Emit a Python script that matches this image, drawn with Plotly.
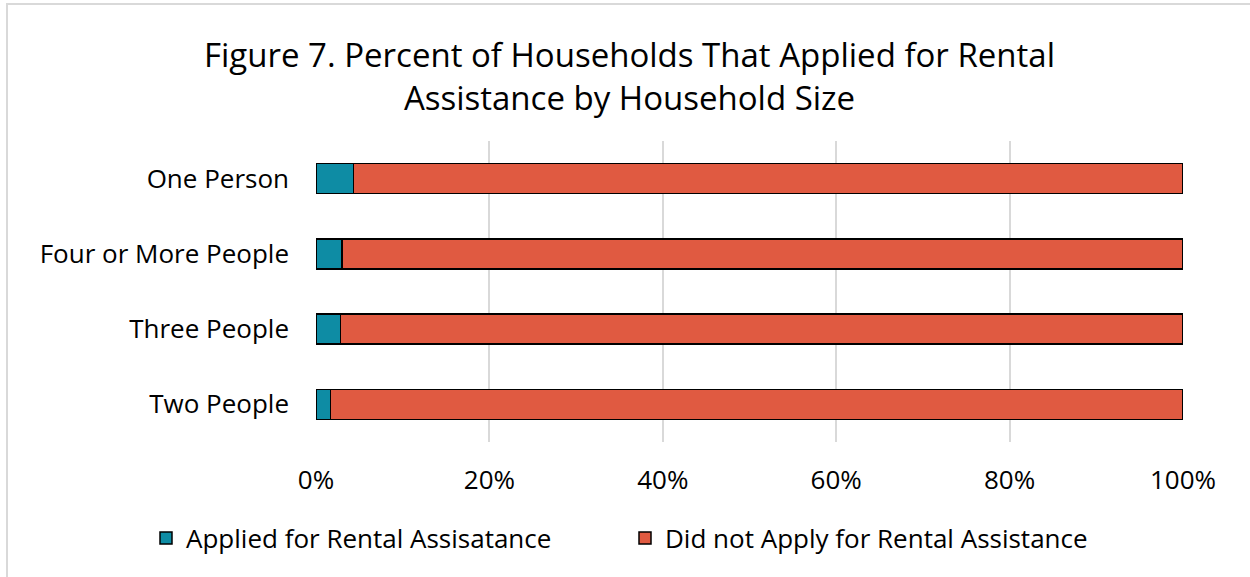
import plotly.graph_objects as go

# Household size categories, listed bottom to top
categories = ["Two People", "Three People", "Four or More People", "One Person"]
applied = [1.7, 2.8, 3.0, 4.3]
did_not_apply = [98.3, 97.2, 97.0, 95.7]
tick_vals = [0, 20, 40, 60, 80, 100]
tick_text = ["0%", "20%", "40%", "60%", "80%", "100%"]

FONT = "'Open Sans', sans-serif"
W, H = 1250, 577
L, R, T, B = 316, 67, 141, 135

fig = go.Figure()
fig.add_trace(go.Bar(
    y=categories, x=applied, orientation="h",
    name="Applied for Rental Assisatance",
    marker=dict(color="#0E8CA4", line=dict(color="#000000", width=1.5)),
    width=0.4,
))
fig.add_trace(go.Bar(
    y=categories, x=did_not_apply, orientation="h",
    name="Did not Apply for Rental Assistance",
    marker=dict(color="#E05A41", line=dict(color="#000000", width=1.5)),
    width=0.4,
))

pw, ph = W - L - R, H - T - B
fig.add_shape(
    type="rect", xref="paper", yref="paper",
    x0=(7 - L) / pw, x1=(W + 20 - L) / pw,
    y0=-(H + 20 - (H - B)) / ph, y1=1 + (T - 4) / ph,
    line=dict(color="#D9D9D9", width=2), fillcolor="rgba(0,0,0,0)", layer="below",
)

fig.update_layout(
    width=W, height=H,
    barmode="stack",
    paper_bgcolor="white", plot_bgcolor="white",
    margin=dict(l=L, r=R, t=T, b=B),
    font=dict(family=FONT, size=26, color="#000000"),
    title=dict(
        text="Figure 7. Percent of Households That Applied for Rental<br>Assistance by Household Size",
        x=629.5 / W, xanchor="center", y=1 - 67 / H, yanchor="middle",
        font=dict(family=FONT, size=33, color="#000000"),
    ),
    xaxis=dict(
        range=[0, 100], tickvals=tick_vals, ticktext=tick_text,
        showgrid=True, gridcolor="#D9D9D9", gridwidth=1.5,
        zeroline=False, showline=False, ticks="",
        ticklabelstandoff=20,
        tickfont=dict(size=26),
    ),
    yaxis=dict(
        showgrid=False, zeroline=False, showline=False, ticks="",
        ticklabelstandoff=26,
        tickfont=dict(size=26),
    ),
    legend=dict(
        orientation="h", x=(146 - L) / pw, xanchor="left",
        y=-(538 - (H - B)) / ph, yanchor="middle",
        font=dict(size=26), traceorder="normal",
        itemwidth=30, entrywidth=434, entrywidthmode="pixels",
    ),
    showlegend=True,
)

fig.write_html("out.html")
